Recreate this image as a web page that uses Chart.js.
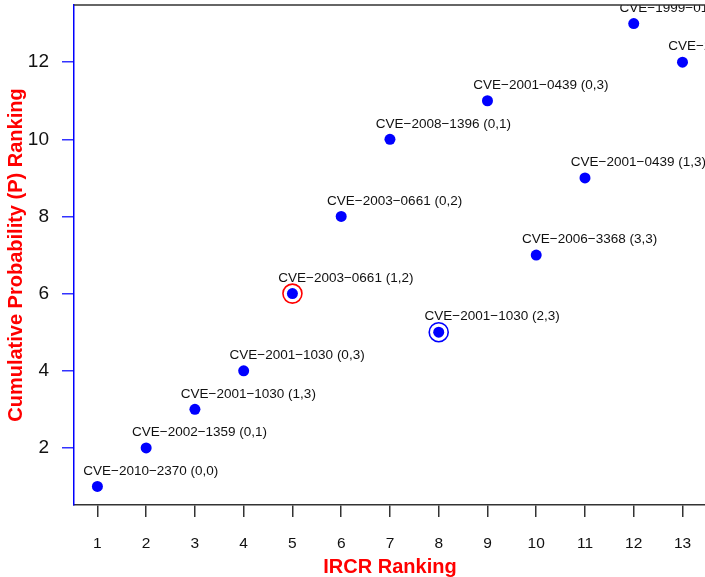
<!DOCTYPE html>
<html lang="en">
<head>
  <meta charset="UTF-8">
  <title>IRCR vs Cumulative Probability Ranking</title>
  <script src="https://cdn.jsdelivr.net/npm/chart.js"></script>
  <style>
    body {
      margin: 0;
      background: #fff;
      overflow: hidden;
    }

    /* a bit larger than the window so the plot box runs to the right edge */
    .wrap {
      width: 717px;
      height: 583px;
      margin-top: -6px;
    }
  </style>
</head>
<body>
  <div class="wrap">
    <canvas id="rankChart"></canvas>
  </div>

  <script>
    // IRCR ranking (x) vs cumulative probability ranking (y)
    const ircrRank = [1, 2, 3, 4, 5, 6, 7, 8, 9, 10, 11, 12, 13];
    const probRank = [1, 2, 3, 4, 6, 8, 10, 5, 11, 7, 9, 13, 12];
    const cveLabels = [
      'CVE−2010−2370 (0,0)',
      'CVE−2002−1359 (0,1)',
      'CVE−2001−1030 (1,3)',
      'CVE−2001−1030 (0,3)',
      'CVE−2003−0661 (1,2)',
      'CVE−2003−0661 (0,2)',
      'CVE−2008−1396 (0,1)',
      'CVE−2001−1030 (2,3)',
      'CVE−2001−0439 (0,3)',
      'CVE−2006−3368 (3,3)',
      'CVE−2001−0439 (1,3)',
      'CVE−1999−0100 (0,3)',
      'CVE−2002−0392 (1,3)'
    ];

    // highlighted points (circled)
    const ringX = [5, 8];
    const ringY = [6, 5];
    const ringColors = ['#ff0000', '#0000ff'];

    const xTicks = [1, 2, 3, 4, 5, 6, 7, 8, 9, 10, 11, 12, 13];
    const yTicks = [2, 4, 6, 8, 10, 12];

    const font = "'Liberation Sans', Arial, sans-serif";

    // text labels next to each point, clipped to the plot box like R does
    const pointLabels = {
      id: 'pointLabels',
      afterDatasetsDraw(chart) {
        const { ctx, chartArea, scales } = chart;
        ctx.save();
        ctx.beginPath();
        ctx.rect(chartArea.left, chartArea.top, chartArea.right - chartArea.left, chartArea.bottom - chartArea.top);
        ctx.clip();
        ctx.font = '13.5px ' + font;
        ctx.fillStyle = '#111';
        ctx.textAlign = 'left';
        ctx.textBaseline = 'middle';
        cveLabels.forEach((txt, i) => {
          const px = scales.x.getPixelForValue(ircrRank[i] - 0.29);
          const py = scales.y.getPixelForValue(probRank[i] + 0.4);
          ctx.fillText(txt, px, py);
        });
        ctx.restore();

        // top frame line
        ctx.save();
        ctx.strokeStyle = '#333';
        ctx.lineWidth = 1.5;
        ctx.beginPath();
        ctx.moveTo(chartArea.left, chartArea.top);
        ctx.lineTo(chartArea.right, chartArea.top);
        ctx.stroke();
        ctx.restore();
      }
    };

    const ctx = document.getElementById('rankChart').getContext('2d');

    new Chart(ctx, {
      type: 'scatter',
      data: {
        datasets: [
          {
            label: 'rings',
            data: ringX.map((x, i) => ({ x: x, y: ringY[i] })),
            pointRadius: 9.5,
            pointBackgroundColor: 'rgba(0,0,0,0)',
            pointBorderColor: ringColors,
            pointBorderWidth: 1.6,
            pointHoverRadius: 9.5
          },
          {
            label: 'CVE',
            data: ircrRank.map((x, i) => ({ x: x, y: probRank[i] })),
            pointRadius: 5.5,
            pointBackgroundColor: '#0000ff',
            pointBorderWidth: 0,
            pointHoverRadius: 5.5
          }
        ]
      },
      options: {
        responsive: true,
        maintainAspectRatio: false,
        animation: false,
        layout: { padding: { top: 5, right: 0, left: 0, bottom: 0 } },
        plugins: {
          legend: { display: false },
          tooltip: { enabled: false }
        },
        scales: {
          x: {
            type: 'linear',
            min: 0.52,
            max: 13.48,
            afterBuildTicks: (scale) => { scale.ticks = xTicks.map(v => ({ value: v })); },
            afterFit: (scale) => {
              scale.height = 72;
              scale.paddingLeft = 0;
              scale.paddingRight = 0;
            },
            border: { display: true, color: '#333', width: 1.5 },
            grid: { drawOnChartArea: false, drawTicks: true, tickLength: 12, color: '#333', lineWidth: 1.5 },
            ticks: {
              color: '#111',
              padding: 17,
              maxRotation: 0,
              autoSkip: false,
              font: { family: font, size: 15.5 }
            },
            title: {
              display: true,
              text: 'IRCR Ranking',
              color: '#ff0000',
              padding: { top: 0, bottom: -2 },
              font: { family: font, size: 20, weight: 'bold' }
            }
          },
          y: {
            type: 'linear',
            min: 0.52,
            max: 13.48,
            afterBuildTicks: (scale) => { scale.ticks = yTicks.map(v => ({ value: v })); },
            afterFit: (scale) => {
              scale.width = 74;
              scale.paddingTop = 0;
              scale.paddingBottom = 0;
            },
            border: { display: true, color: '#0000ff', width: 1.5 },
            grid: { drawOnChartArea: false, drawTicks: true, tickLength: 12, color: '#3333ff', lineWidth: 1.5 },
            ticks: {
              color: '#111',
              padding: 13,
              autoSkip: false,
              font: { family: font, size: 19 }
            },
            title: {
              display: true,
              text: 'Cumulative Probability (P) Ranking',
              color: '#ff0000',
              padding: { top: 4, bottom: 0 },
              font: { family: font, size: 20, weight: 'bold' }
            }
          }
        }
      },
      plugins: [pointLabels]
    });
  </script>
</body>
</html>
